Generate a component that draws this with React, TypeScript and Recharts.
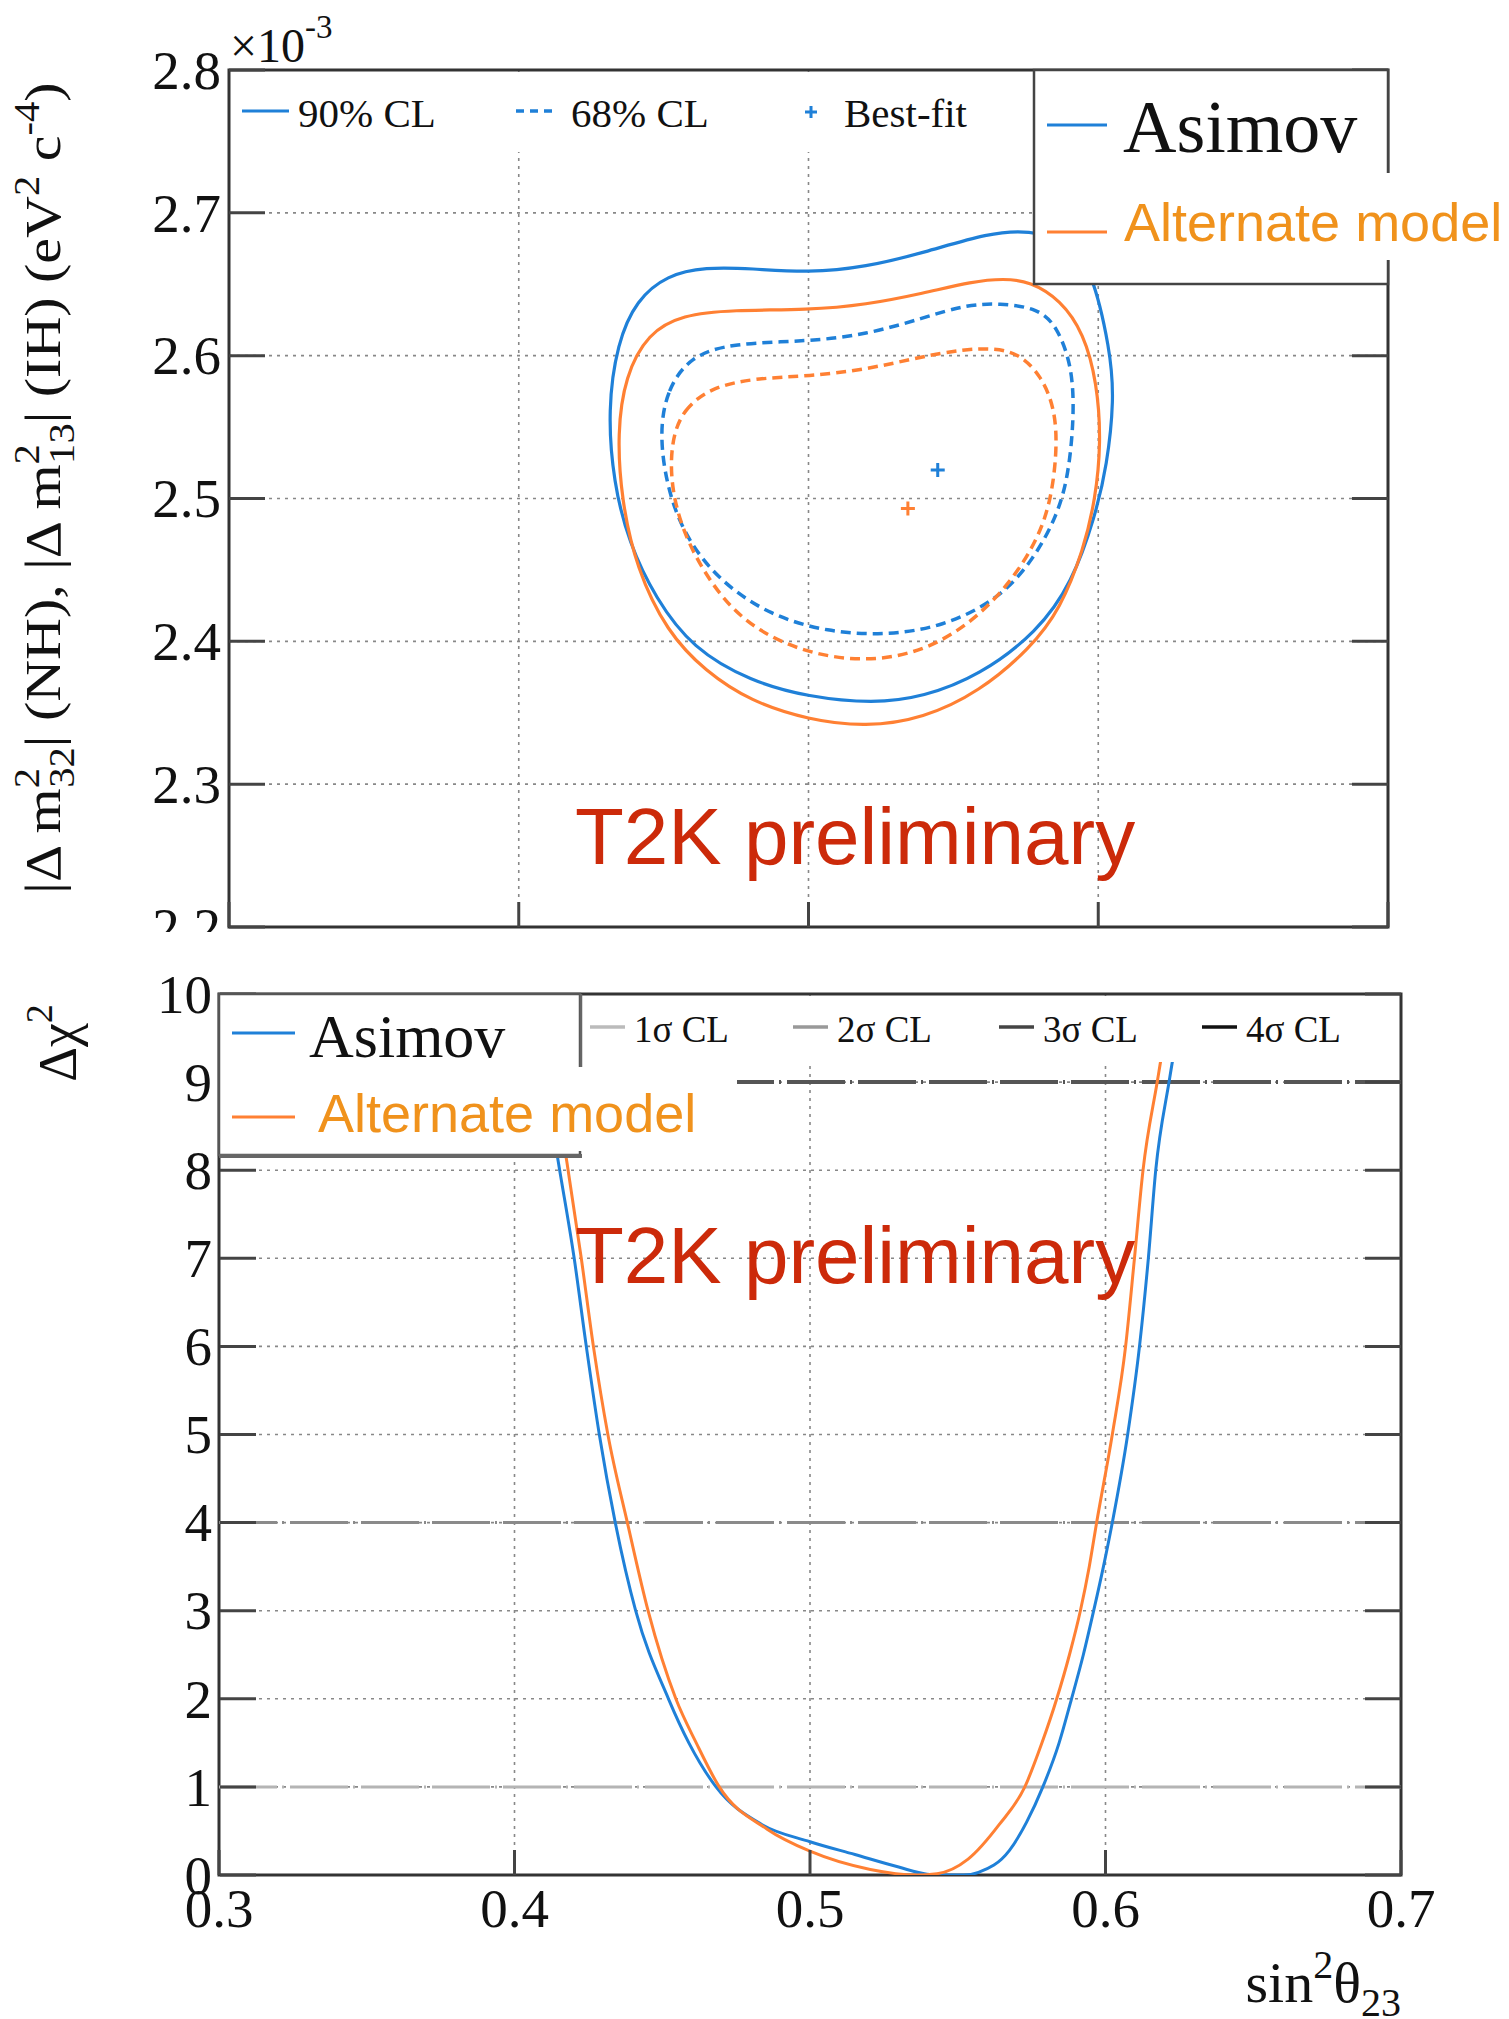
import React from "react";
import {
  CartesianGrid,
  ComposedChart,
  Line,
  ReferenceArea,
  ReferenceLine,
  Scatter,
  XAxis,
  YAxis,
} from "recharts";

// sin^2(theta23) vs |dm^2| contours (top) and delta chi^2 profile (bottom)

const BLUE = "#1f80d8";
const ORANGE = "#ff8033";
const LABEL_ORANGE = "#f0921c";
const T2K_RED = "#cc2a0a";
const FRAME = "#333";
const SERIF = "'Liberation Serif', 'Times New Roman', serif";
const SANS = "'Liberation Sans', Arial, sans-serif";

const sinTicks = [0.3, 0.4, 0.5, 0.6, 0.7];
const dmTicks = [2.2, 2.3, 2.4, 2.5, 2.6, 2.7, 2.8];
const chiTicks = [0, 1, 2, 3, 4, 5, 6, 7, 8, 9, 10];

// 90% CL contour, Asimov
const asimov90 = [
  [0.4307, 2.562], [0.434, 2.609], [0.4406, 2.639], [0.4512, 2.6565], [0.4644, 2.662],
  [0.4802, 2.661], [0.5, 2.658], [0.5198, 2.662], [0.5396, 2.672], [0.5624, 2.686],
  [0.576, 2.688], [0.59, 2.68], [0.5975, 2.662], [0.6042, 2.604], [0.6055, 2.569],
  [0.603, 2.523], [0.599, 2.488], [0.591, 2.441], [0.579, 2.4065], [0.559, 2.376],
  [0.5396, 2.361], [0.5224, 2.3565], [0.5, 2.361], [0.48, 2.372], [0.46, 2.395],
  [0.4472, 2.43], [0.438, 2.469], [0.4327, 2.511],
];

// 90% CL contour, alternate model
const alt90 = [
  [0.434, 2.546], [0.4367, 2.5856], [0.4446, 2.6158], [0.4565, 2.6286], [0.4736, 2.632],
  [0.5, 2.632], [0.5198, 2.6356], [0.5396, 2.6437], [0.5567, 2.652], [0.5673, 2.654],
  [0.5765, 2.652], [0.587, 2.639], [0.595, 2.6158], [0.5996, 2.581], [0.601, 2.539],
  [0.599, 2.4995], [0.595, 2.4647], [0.587, 2.4228], [0.5765, 2.395], [0.559, 2.3647],
  [0.5396, 2.346], [0.5198, 2.34], [0.5, 2.345], [0.48, 2.358], [0.4644, 2.379],
  [0.4512, 2.4065], [0.4406, 2.451], [0.4354, 2.4995],
];

// 68% CL contour, Asimov
const asimov68 = [
  [0.4485, 2.546], [0.4512, 2.5763], [0.4591, 2.5995], [0.4736, 2.6088], [0.5, 2.61],
  [0.5198, 2.6147], [0.5396, 2.6263], [0.554, 2.6356], [0.566, 2.6367], [0.5792, 2.6333],
  [0.5858, 2.6205], [0.591, 2.5926], [0.5917, 2.5577], [0.5897, 2.5158], [0.5858, 2.4879],
  [0.5778, 2.4577], [0.566, 2.4298], [0.5462, 2.41], [0.5264, 2.4042], [0.5066, 2.4065],
  [0.4868, 2.4181], [0.4697, 2.4414], [0.4578, 2.4716], [0.4512, 2.5065],
];

// 68% CL contour, alternate model
const alt68 = [
  [0.4525, 2.5391], [0.4565, 2.5623], [0.467, 2.5786], [0.4828, 2.5844], [0.5, 2.5856],
  [0.5198, 2.5902], [0.5396, 2.5995], [0.5528, 2.6042], [0.5633, 2.6053], [0.5726, 2.6019],
  [0.5805, 2.5856], [0.5851, 2.5623], [0.5858, 2.5344], [0.5838, 2.4995], [0.5792, 2.4716],
  [0.5699, 2.4414], [0.5567, 2.4135], [0.5396, 2.3926], [0.5198, 2.3856], [0.5, 2.3914],
  [0.4828, 2.4065], [0.4697, 2.4298], [0.4578, 2.4693], [0.4525, 2.5065],
];

const bestAsimov = [[0.5446, 2.52]];
const bestAlt = [[0.5343, 2.493]];

// delta chi^2 profiles
const asimovChi = [
  [0.4124, 8.6], [0.4148, 8.1], [0.4202, 7.0], [0.4243, 6.0], [0.4287, 5.0],
  [0.4341, 4.0], [0.441, 3.0], [0.4521, 2.0], [0.459, 1.5], [0.4682, 1.0],
  [0.4838, 0.571], [0.5, 0.378], [0.5152, 0.232], [0.53, 0.09], [0.5396, 0.01],
  [0.545, 0.0], [0.552, 0.0], [0.557, 0.03], [0.5675, 0.28], [0.5733, 0.6],
  [0.5788, 1.0], [0.5843, 1.5], [0.5885, 2.0], [0.5925, 2.5], [0.596, 3.0],
  [0.5993, 3.5], [0.6023, 4.0], [0.6075, 5.0], [0.6115, 6.0], [0.6145, 7.0],
  [0.617, 8.0], [0.6215, 9.0], [0.6235, 9.4], [0.626, 9.8],
];

const altChi = [
  [0.4153, 8.6], [0.4177, 8.1], [0.4226, 7.0], [0.4267, 6.0], [0.4316, 5.0],
  [0.4382, 4.0], [0.4452, 3.0], [0.4546, 2.0], [0.4615, 1.5], [0.4693, 1.0],
  [0.4855, 0.52], [0.5, 0.27], [0.5204, 0.063], [0.536, 0.0], [0.543, 0.015],
  [0.5535, 0.18], [0.564, 0.571], [0.5727, 1.0], [0.5785, 1.5], [0.5835, 2.0],
  [0.5878, 2.5], [0.5915, 3.0], [0.5945, 3.5], [0.597, 4.0], [0.6023, 5.0],
  [0.6068, 6.0], [0.6098, 7.0], [0.6127, 8.0], [0.6175, 9.0], [0.6195, 9.4],
  [0.622, 9.8],
];

// confidence-level levels for the profile
const clLevels = [
  { y: 1, color: "#b4b4b4", width: 3 },
  { y: 4, color: "#8a8a8a", width: 3 },
  { y: 9, color: "#555", width: 4 },
];

const toPts = (arr: number[][]) => arr.map(([x, y]) => ({ x, y }));

const TICK_Y = 36;
const TICK_X = 25;

function LeftTick(props: any) {
  const { x, y, payload, digits } = props;
  const axisX = x + 8;
  return (
    <g>
      <line x1={axisX} x2={axisX + TICK_Y} y1={y} y2={y} stroke="#444" strokeWidth={3} />
      <text x={x} y={y} dy="0.34em" textAnchor="end" fontFamily={SERIF} fontSize={55} fill="#111">
        {Number(payload.value).toFixed(digits)}
      </text>
    </g>
  );
}

function RightTick(props: any) {
  const { x, y } = props;
  return <line x1={x} x2={x - TICK_Y} y1={y} y2={y} stroke="#444" strokeWidth={3} />;
}

function BottomTick(props: any) {
  const { x, y, payload, showLabel } = props;
  return (
    <g>
      <line x1={x} x2={x} y1={y} y2={y - TICK_X} stroke="#444" strokeWidth={3} />
      {showLabel && (
        <text x={x} y={y + 52} textAnchor="middle" fontFamily={SERIF} fontSize={55} fill="#111">
          {Number(payload.value).toFixed(1)}
        </text>
      )}
    </g>
  );
}

function Cross(props: any) {
  const { cx, cy, color } = props;
  const r = 7;
  return (
    <path
      d={`M${cx - r},${cy}H${cx + r}M${cx},${cy - r}V${cy + r}`}
      stroke={color}
      strokeWidth={3}
      fill="none"
    />
  );
}

function ContourPanel() {
  return (
    <ComposedChart width={1509} height={932} margin={{ top: 70, right: 101, bottom: 0, left: 129 }}>
      <CartesianGrid stroke="#888" strokeDasharray="3 5" strokeWidth={1.6} />
      <XAxis
        type="number"
        dataKey="x"
        domain={[0.3, 0.7]}
        ticks={sinTicks}
        interval={0}
        height={5}
        tickSize={0}
        tickMargin={0}
        axisLine={false}
        tick={<BottomTick showLabel={false} />}
        allowDataOverflow
      />
      <YAxis
        type="number"
        domain={[2.2, 2.8]}
        ticks={dmTicks}
        interval={0}
        width={100}
        tickSize={0}
        tickMargin={8}
        axisLine={false}
        tick={<LeftTick digits={1} />}
        allowDataOverflow
      />
      <YAxis
        yAxisId="r"
        orientation="right"
        type="number"
        domain={[2.2, 2.8]}
        ticks={dmTicks}
        interval={0}
        width={20}
        tickSize={0}
        tickMargin={0}
        axisLine={false}
        tick={<RightTick />}
        allowDataOverflow
      />
      <Line data={toPts(asimov90)} dataKey="y" type="basisClosed" stroke={BLUE} strokeWidth={3.2} dot={false} isAnimationActive={false} />
      <Line data={toPts(alt90)} dataKey="y" type="basisClosed" stroke={ORANGE} strokeWidth={3.2} dot={false} isAnimationActive={false} />
      <Line data={toPts(asimov68)} dataKey="y" type="basisClosed" stroke={BLUE} strokeWidth={3.5} strokeDasharray="10 6" dot={false} isAnimationActive={false} />
      <Line data={toPts(alt68)} dataKey="y" type="basisClosed" stroke={ORANGE} strokeWidth={3.5} strokeDasharray="10 6" dot={false} isAnimationActive={false} />
      <Scatter data={toPts(bestAsimov)} dataKey="y" shape={<Cross color={BLUE} />} isAnimationActive={false} />
      <Scatter data={toPts(bestAlt)} dataKey="y" shape={<Cross color={ORANGE} />} isAnimationActive={false} />
      <ReferenceArea x1={0.3} x2={0.7} y1={2.2} y2={2.8} fill="none" stroke={FRAME} strokeWidth={3} />
    </ComposedChart>
  );
}

function ProfilePanel() {
  return (
    <ComposedChart width={1509} height={1084} margin={{ top: 59, right: 88, bottom: 64, left: 119 }}>
      <CartesianGrid stroke="#888" strokeDasharray="3 5" strokeWidth={1.6} />
      <XAxis
        type="number"
        dataKey="x"
        domain={[0.3, 0.7]}
        ticks={sinTicks}
        interval={0}
        height={80}
        tickSize={0}
        tickMargin={0}
        axisLine={false}
        tick={<BottomTick showLabel />}
        allowDataOverflow
      />
      <YAxis
        type="number"
        domain={[0, 10]}
        ticks={chiTicks}
        interval={0}
        width={100}
        tickSize={0}
        tickMargin={7}
        axisLine={false}
        tick={<LeftTick digits={0} />}
        allowDataOverflow
      />
      <YAxis
        yAxisId="r"
        orientation="right"
        type="number"
        domain={[0, 10]}
        ticks={chiTicks}
        interval={0}
        width={20}
        tickSize={0}
        tickMargin={0}
        axisLine={false}
        tick={<RightTick />}
        allowDataOverflow
      />
      {clLevels.map((c) => (
        <ReferenceLine key={c.y} y={c.y} stroke={c.color} strokeWidth={c.width} strokeDasharray="58 5 2 6" />
      ))}
      <Line data={toPts(asimovChi)} dataKey="y" type="monotone" stroke={BLUE} strokeWidth={3} dot={false} isAnimationActive={false} />
      <Line data={toPts(altChi)} dataKey="y" type="monotone" stroke={ORANGE} strokeWidth={3} dot={false} isAnimationActive={false} />
      <ReferenceArea x1={0.3} x2={0.7} y1={0} y2={10} fill="none" stroke={FRAME} strokeWidth={3} />
    </ComposedChart>
  );
}

// legends, titles and watermark text drawn over both panels
function Overlay() {
  const serifText = { fontFamily: SERIF, fill: "#111" };
  return (
    <svg width={1509} height={2019} style={{ position: "absolute", left: 0, top: 0, pointerEvents: "none" }}>
      {/* exponent of the vertical axis */}
      <text x={230} y={62} fontSize={48} {...serifText}>
        ×10<tspan fontSize={33} dy={-24}>-3</tspan>
      </text>

      {/* vertical axis title, top panel */}
      <text
        transform="translate(60,488) rotate(-90) scale(1.16,1)"
        textAnchor="middle"
        fontSize={50}
        {...serifText}
      >
        |Δ m<tspan fontSize={35} dy={-21}>2</tspan>
        <tspan fontSize={35} dx={-17} dy={35}>32</tspan>
        <tspan dy={-14}>| (NH), |Δ m</tspan>
        <tspan fontSize={35} dy={-21}>2</tspan>
        <tspan fontSize={35} dx={-17} dy={35}>13</tspan>
        <tspan dy={-14}>| (IH) (eV</tspan>
        <tspan fontSize={35} dy={-21}>2</tspan>
        <tspan dy={21}> c</tspan>
        <tspan fontSize={35} dy={-21}>-4</tspan>
        <tspan dy={21}>)</tspan>
      </text>

      {/* CL legend, top panel */}
      <rect x={231} y={72} width={802} height={80} fill="#fff" />
      <line x1={242} x2={289} y1={111} y2={111} stroke={BLUE} strokeWidth={3} />
      <text x={298} y={127} fontSize={41} {...serifText}>90% CL</text>
      <line x1={516} x2={557} y1={111} y2={111} stroke={BLUE} strokeWidth={3.5} strokeDasharray="8 6" />
      <text x={571} y={127} fontSize={41} {...serifText}>68% CL</text>
      <path d="M805,112H817M811,106V118" stroke={BLUE} strokeWidth={3} />
      <text x={844} y={127} fontSize={41} {...serifText}>Best-fit</text>

      {/* model legend, top panel */}
      <rect x={1034} y={70} width={354} height={214} fill="#fff" stroke="#444" strokeWidth={2.5} />
      <line x1={1047} x2={1107} y1={125} y2={125} stroke={BLUE} strokeWidth={3} />
      <text x={1123} y={152} fontSize={74} {...serifText}>Asimov</text>
      <rect x={1110} y={173} width={399} height={87} fill="#fff" />
      <line x1={1047} x2={1107} y1={232} y2={232} stroke={ORANGE} strokeWidth={3} />
      <text x={1124} y={241} fontSize={54} fontFamily={SANS} fill={LABEL_ORANGE}>Alternate model</text>

      <text x={575} y={864} fontSize={80} fontFamily={SANS} fill={T2K_RED}>T2K preliminary</text>

      {/* vertical axis title, bottom panel */}
      <text transform="translate(76,1043) rotate(-90)" textAnchor="middle" fontSize={54} {...serifText}>
        Δχ<tspan fontSize={38} dy={-24}>2</tspan>
      </text>

      {/* model legend, bottom panel */}
      <rect x={219} y={994} width={361} height={161} fill="#fff" stroke="#555" strokeWidth={2.5} />
      <line x1={219} x2={582} y1={1156} y2={1156} stroke="#666" strokeWidth={4} />
      <line x1={232} x2={295} y1={1033} y2={1033} stroke={BLUE} strokeWidth={3} />
      <text x={309} y={1057} fontSize={62} {...serifText}>Asimov</text>
      <rect x={305} y={1067} width={432} height={84} fill="#fff" />
      <line x1={232} x2={295} y1={1117} y2={1117} stroke={ORANGE} strokeWidth={3} />
      <text x={318} y={1132} fontSize={54} fontFamily={SANS} fill={LABEL_ORANGE}>Alternate model</text>

      {/* sigma legend, bottom panel */}
      <rect x={582} y={996} width={817} height={66} fill="#fff" />
      <line x1={581} x2={581} y1={994} y2={1067} stroke="#666" strokeWidth={2.5} />
      {[
        { x: 590, color: "#bbb", label: "1σ CL" },
        { x: 793, color: "#999", label: "2σ CL" },
        { x: 999, color: "#444", label: "3σ CL" },
        { x: 1202, color: "#111", label: "4σ CL" },
      ].map((s) => (
        <g key={s.label}>
          <line x1={s.x} x2={s.x + 35} y1={1027} y2={1027} stroke={s.color} strokeWidth={3.5} />
          <text x={s.x + 44} y={1042} fontSize={37} {...serifText}>{s.label}</text>
        </g>
      ))}

      <text x={575} y={1283} fontSize={80} fontFamily={SANS} fill={T2K_RED}>T2K preliminary</text>

      {/* horizontal axis title */}
      <text x={1401} y={2002} textAnchor="end" fontSize={58} {...serifText}>
        sin<tspan fontSize={40} dy={-24}>2</tspan>
        <tspan dy={24}>θ</tspan>
        <tspan fontSize={40} dy={14}>23</tspan>
      </text>
    </svg>
  );
}

export default function App() {
  return (
    <div style={{ position: "absolute", left: 0, top: 0, width: 1509, height: 2019, background: "#fff" }}>
      <div style={{ position: "absolute", left: 0, top: 0 }}>
        <ContourPanel />
      </div>
      <div style={{ position: "absolute", left: 0, top: 935 }}>
        <ProfilePanel />
      </div>
      <Overlay />
    </div>
  );
}
